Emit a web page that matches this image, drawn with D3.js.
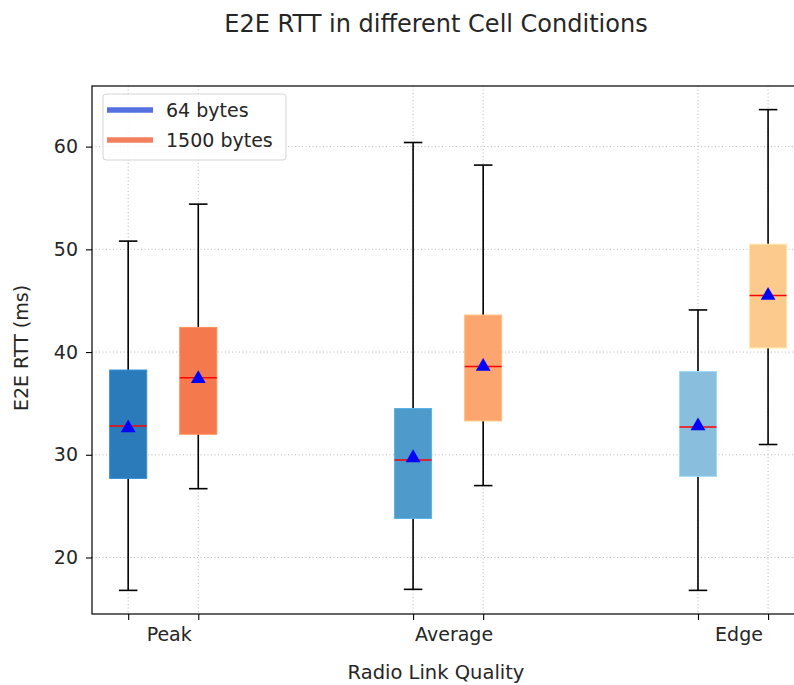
<!DOCTYPE html>
<html><head><meta charset="utf-8">
<script src="https://cdn.jsdelivr.net/npm/d3@7"></script>
<style>body{margin:0;background:#fff}svg{display:block}text{font-family:"DejaVu Sans",sans-serif;fill:#262626}</style>
</head><body><svg id="c" width="794" height="685"></svg>
<script>
const categories = ["Peak", "Average", "Edge"];
const seriesNames = ["64 bytes", "1500 bytes"];
// [whiskerLow, Q1, median, Q3, whiskerHigh, mean]
const stats64   = [[16.8, 27.7, 32.8, 38.25, 50.8, 32.6], [16.9, 23.8, 29.5, 34.5, 60.4, 29.7], [16.8, 27.9, 32.7, 38.1, 44.1, 32.8]];
const stats1500 = [[26.7, 32.0, 37.5, 42.4, 54.4, 37.4], [27.0, 33.3, 38.6, 43.6, 58.2, 38.6], [31.0, 40.4, 45.5, 50.5, 63.6, 45.5]];
const yTicks = [20, 30, 40, 50, 60];
const fills64 = ["#2b7bba", "#4d9acb", "#89bedc"];
const fills1500 = ["#f47a4d", "#fca56e", "#fdca8e"];
const legendColors = ["#5470e0", "#f2805e"];

const svg = d3.select("#c");
const L = 92, T = 86, B = 614, R = 794;
const x = d3.scaleLinear().domain([-0.25, 2.214]).range([L, R]);
const y = d3.scaleLinear().domain([14.5, 65.9]).range([B, T]);
const off = 0.123, bw = 0.13;

const boxes = [];
categories.forEach((c, i) => {
  boxes.push({pos: i - off, s: stats64[i], fill: fills64[i]});
  boxes.push({pos: i + off, s: stats1500[i], fill: fills1500[i]});
});

// grid
const g = svg.append("g");
yTicks.forEach(t => g.append("line").attr("x1", L).attr("x2", R).attr("y1", y(t)).attr("y2", y(t))
  .attr("stroke", "#b0b0b0").attr("stroke-width", 0.9).attr("stroke-dasharray", "1,2.5"));
boxes.forEach(b => g.append("line").attr("x1", x(b.pos)).attr("x2", x(b.pos)).attr("y1", T).attr("y2", B)
  .attr("stroke", "#b0b0b0").attr("stroke-width", 0.9).attr("stroke-dasharray", "1,2.5"));

// boxes
const capHalf = (x(bw) - x(0)) / 4;
boxes.forEach(b => {
  const cx = x(b.pos), w = x(bw) - x(0);
  const [lo, q1, med, q3, hi, mean] = b.s;
  svg.append("line").attr("x1", cx).attr("x2", cx).attr("y1", y(q3)).attr("y2", y(hi)).attr("stroke", "#000").attr("stroke-width", 1.6);
  svg.append("line").attr("x1", cx).attr("x2", cx).attr("y1", y(q1)).attr("y2", y(lo)).attr("stroke", "#000").attr("stroke-width", 1.6);
  [lo, hi].forEach(v => svg.append("line").attr("x1", cx - capHalf).attr("x2", cx + capHalf).attr("y1", y(v)).attr("y2", y(v)).attr("stroke", "#000").attr("stroke-width", 1.6));
  svg.append("rect").attr("x", cx - w / 2).attr("y", y(q3)).attr("width", w).attr("height", y(q1) - y(q3))
    .attr("fill", b.fill).attr("stroke", d3.color(b.fill).brighter(0.4)).attr("stroke-width", 1);
  svg.append("line").attr("x1", cx - w / 2).attr("x2", cx + w / 2).attr("y1", y(med)).attr("y2", y(med)).attr("stroke", "#ff0000").attr("stroke-width", 1.5);
  svg.append("path").attr("transform", `translate(${cx},${y(mean)})`)
    .attr("d", d3.symbol(d3.symbolTriangle, 95)()).attr("fill", "#0000ff");
});

// axes
const yAxis = svg.append("g").attr("transform", `translate(${L},0)`)
  .call(d3.axisLeft(y).tickValues(yTicks).tickSize(6).tickPadding(8));
yAxis.select(".domain").remove();
yAxis.selectAll("line").attr("stroke", "#000").attr("stroke-width", 1.1);
yAxis.selectAll("text").attr("font-size", 19).attr("fill", "#262626").style("font-family", "DejaVu Sans");
const xAxis = svg.append("g").attr("transform", `translate(0,${B})`)
  .call(d3.axisBottom(x).tickValues(boxes.map(b => b.pos)).tickSize(6).tickFormat(""));
xAxis.select(".domain").remove();
xAxis.selectAll("line").attr("stroke", "#000").attr("stroke-width", 1.1);
categories.forEach((c, i) => svg.append("text").attr("x", x(i + 0.021)).attr("y", 641).attr("text-anchor", "middle").attr("font-size", 19).text(c));

// frame
svg.append("rect").attr("x", L).attr("y", T).attr("width", R - L + 5).attr("height", B - T).attr("fill", "none").attr("stroke", "#000").attr("stroke-width", 1.2);

// labels
svg.append("text").attr("x", 436).attr("y", 32).attr("text-anchor", "middle").attr("font-size", 24).text("E2E RTT in different Cell Conditions");
svg.append("text").attr("x", 436).attr("y", 679).attr("text-anchor", "middle").attr("font-size", 19.5).text("Radio Link Quality");
svg.append("text").attr("transform", "translate(28,348) rotate(-90)").attr("text-anchor", "middle").attr("font-size", 19).text("E2E RTT (ms)");

// legend
const lg = svg.append("g");
lg.append("rect").attr("x", 103).attr("y", 94).attr("width", 183).attr("height", 66).attr("rx", 3)
  .attr("fill", "#fff").attr("fill-opacity", 0.8).attr("stroke", "#d5d5d5");
seriesNames.forEach((n, k) => {
  const yy = 110 + k * 30;
  lg.append("line").attr("x1", 107).attr("x2", 153).attr("y1", yy).attr("y2", yy).attr("stroke", legendColors[k]).attr("stroke-width", 5.5);
  lg.append("text").attr("x", 166).attr("y", yy + 7).attr("font-size", 19).text(n);
});
</script></body></html>
